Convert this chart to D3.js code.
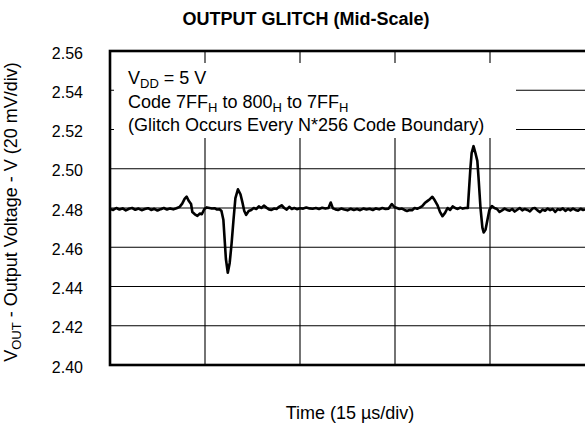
<!DOCTYPE html>
<html>
<head>
<meta charset="utf-8">
<title>output glitch</title>
<style>
body { margin: 0; background: #fff; }
text { font-family: "Liberation Sans", Arial, sans-serif; fill: #000; }
</style>
</head>
<body>
<script src="https://cdn.jsdelivr.net/npm/d3@7/dist/d3.min.js"></script>
<script>

// time in microseconds (15 us per division), output voltage in volts
var timeUs = [0, 0.5, 1, 1.5, 2, 2.5, 3, 3.5, 4, 4.5, 5, 5.5, 6, 6.5, 7, 7.5, 8, 8.5, 9, 9.5, 10, 10.5, 11,
  11.4, 11.8, 12.1, 12.4, 12.8, 13.0, 13.4, 13.8, 14.2, 14.5, 14.9, 15.3, 15.7, 16.1, 16.5, 16.9, 17.3, 17.6,
  17.9, 18.1, 18.3, 18.6, 18.9, 19.2, 19.5, 19.8, 20.2, 20.6, 20.9, 21.2, 21.5, 21.9, 22.3, 22.7, 23.1, 23.5,
  23.9, 24.3, 24.7, 25.1, 25.5, 25.9, 26.3, 26.7, 27.1, 27.5, 27.9, 28.3, 28.7, 29.1, 29.5, 30, 30.5, 31, 31.5,
  32, 32.5, 33, 33.5, 34, 34.5, 34.85, 35.2, 35.6, 36, 36.5, 37, 37.5, 38, 38.5, 39, 39.5, 40, 40.5, 41, 41.5,
  42, 42.5, 43, 43.5, 44, 44.5, 44.9, 45.3, 45.7, 46.1, 46.5, 46.9, 47.3, 47.7, 48.1, 48.5, 48.9, 49.3, 49.7,
  50.1, 50.5, 50.9, 51.3, 51.7, 52.1, 52.5, 52.9, 53.3, 53.7, 54.1, 54.5, 54.9, 55.3, 55.7, 56.1, 56.5, 56.7,
  56.9, 57.1, 57.4, 57.7, 58.0, 58.2, 58.5, 58.8, 59.0, 59.3, 59.6, 59.9, 60.3, 60.7, 61.1, 61.5, 61.9, 62.3,
  62.7, 63.1, 63.5, 63.9, 64.3, 64.7, 65.1, 65.5, 65.9, 66.3, 66.7, 67.1, 67.5, 67.9, 68.3, 68.7, 69.1, 69.5,
  69.9, 70.3, 70.7, 71.1, 71.5, 71.9, 72.3, 72.7, 73.1, 73.5, 73.9, 74.3, 74.7, 75];
var voltage = [2.4795, 2.4790, 2.4800, 2.4792, 2.4798, 2.4788, 2.4796, 2.4800, 2.4791, 2.4797, 2.4789, 2.4795,
  2.4799, 2.4790, 2.4796, 2.4787, 2.4794, 2.4800, 2.4792, 2.4798, 2.4793, 2.4799, 2.4806,
  2.4822, 2.4848, 2.4858, 2.4838, 2.4820, 2.4780, 2.4768, 2.4760, 2.4772, 2.4768, 2.4795, 2.4803, 2.4800,
  2.4797, 2.4799, 2.4792, 2.4794, 2.4785,
  2.4740, 2.4640, 2.4540, 2.4470, 2.4520, 2.4620, 2.4740, 2.4850, 2.4895, 2.4870, 2.4830, 2.4785, 2.4765,
  2.4785, 2.4790, 2.4800, 2.4795, 2.4808,
  2.4800, 2.4812, 2.4802, 2.4793, 2.4790, 2.4797, 2.4795, 2.4806, 2.4814, 2.4800, 2.4792, 2.4806, 2.4795,
  2.4800, 2.4794, 2.4799, 2.4797, 2.4802, 2.4798,
  2.4796, 2.4800, 2.4795, 2.4801, 2.4797, 2.4800, 2.4828, 2.4798, 2.4793, 2.4790, 2.4797, 2.4792, 2.4788,
  2.4796, 2.4790, 2.4795, 2.4789, 2.4797, 2.4792, 2.4796, 2.4790,
  2.4798, 2.4793, 2.4800, 2.4795, 2.4797, 2.4820, 2.4805, 2.4800, 2.4795, 2.4797, 2.4790, 2.4785, 2.4790,
  2.4789, 2.4800, 2.4796, 2.4802, 2.4810, 2.4825,
  2.4835, 2.4845, 2.4857, 2.4838, 2.4815, 2.4780, 2.4758, 2.4775, 2.4800, 2.4790, 2.4808, 2.4800, 2.4795,
  2.4802, 2.4797, 2.4800, 2.4800, 2.4900,
  2.5000, 2.5080, 2.5115, 2.5080, 2.5040, 2.4950, 2.4800, 2.4700, 2.4675, 2.4690, 2.4740, 2.4790, 2.4810,
  2.4800, 2.4795, 2.4780, 2.4788, 2.4797,
  2.4790, 2.4786, 2.4795, 2.4782, 2.4791, 2.4800, 2.4788, 2.4795, 2.4790, 2.4783, 2.4797, 2.4800, 2.4788,
  2.4779, 2.4792, 2.4786, 2.4797, 2.4789,
  2.4795, 2.4780, 2.4794, 2.4790, 2.4798, 2.4785, 2.4795, 2.4788, 2.4797, 2.4790, 2.4786, 2.4796, 2.4790, 2.4793];

var yTicks = [2.40, 2.42, 2.44, 2.46, 2.48, 2.50, 2.52, 2.54, 2.56];
var xGrid = [15, 30, 45, 60];
// [text, isSubscript]
var noteLines = [
  [["V", 0], ["DD", 1], [" = 5 V", 0]],
  [["Code 7FF", 0], ["H", 1], [" to 800", 0], ["H", 1], [" to 7FF", 0], ["H", 1]],
  [["(Glitch Occurs Every N*256 Code Boundary)", 0]]
];

var width = 585, height = 434;
var plotL = 110, plotT = 51, plotR = 585, plotB = 365;

var svg = d3.select("body").append("svg")
    .attr("width", width)
    .attr("height", height);

var x = d3.scaleLinear().domain([0, 75]).range([plotL, plotR]);
var y = d3.scaleLinear().domain([2.40, 2.56]).range([plotB, plotT]);

// grid
svg.append("g").selectAll("line")
  .data(yTicks)
  .enter().append("line")
    .attr("x1", plotL).attr("x2", plotR)
    .attr("y1", function (d) { return y(d); })
    .attr("y2", function (d) { return y(d); })
    .attr("stroke", "#000").attr("stroke-width", 1.1);

svg.append("g").selectAll("line")
  .data(xGrid)
  .enter().append("line")
    .attr("x1", function (d) { return x(d); })
    .attr("x2", function (d) { return x(d); })
    .attr("y1", plotT).attr("y2", plotB)
    .attr("stroke", "#000").attr("stroke-width", 1.1);

// tick labels
var yAxis = svg.append("g")
  .attr("transform", "translate(" + plotL + ",0)")
  .call(d3.axisLeft(y).tickValues(yTicks).tickSize(0).tickPadding(27).tickFormat(d3.format(".2f")));
yAxis.select(".domain").remove();
yAxis.selectAll("text")
  .attr("font-size", 16)
  .attr("font-family", "Liberation Sans, Arial, sans-serif")
  .attr("dy", "0.45em");

// trace
var points = timeUs.map(function (t, i) { return [t, voltage[i]]; });
svg.append("clipPath").attr("id", "clip")
  .append("rect").attr("x", plotL).attr("y", plotT).attr("width", plotR - plotL + 10).attr("height", plotB - plotT);

svg.append("path")
  .datum(points)
  .attr("clip-path", "url(#clip)")
  .attr("fill", "none")
  .attr("stroke", "#000")
  .attr("stroke-width", 2.6)
  .attr("stroke-linejoin", "round")
  .attr("d", d3.line().x(function (d) { return x(d[0]); }).y(function (d) { return y(d[1]); }));

// frame
svg.append("rect")
  .attr("x", plotL).attr("y", plotT)
  .attr("width", plotR - plotL + 20).attr("height", plotB - plotT)
  .attr("fill", "none").attr("stroke", "#000").attr("stroke-width", 2.6);

// note box
svg.append("rect")
  .attr("x", plotL + 4).attr("y", 63)
  .attr("width", 402).attr("height", 75)
  .attr("fill", "#fff");

svg.append("g").selectAll("text")
  .data(noteLines)
  .enter().append("text")
    .attr("x", 128)
    .attr("y", function (d, i) { return 84 + i * 23.5; })
    .attr("font-size", 18)
    .each(function (parts) {
      var t = d3.select(this);
      var prevSub = 0;
      parts.forEach(function (p) {
        t.append("tspan")
          .attr("font-size", p[1] ? 13 : 18)
          .attr("dy", (p[1] ? 4 : 0) - (prevSub ? 4 : 0))
          .text(p[0]);
        prevSub = p[1];
      });
    });

// title
svg.append("text")
  .attr("x", 306).attr("y", 25)
  .attr("text-anchor", "middle")
  .attr("font-size", 18)
  .attr("font-weight", "bold")
  .text("OUTPUT GLITCH (Mid-Scale)");

// x label
svg.append("text")
  .attr("x", 350).attr("y", 419)
  .attr("text-anchor", "middle")
  .attr("font-size", 18)
  .text("Time (15 \u00b5s/div)");

// y label
var yl = svg.append("text")
  .attr("transform", "translate(17,212) rotate(-90)")
  .attr("text-anchor", "middle")
  .attr("font-size", 18);
yl.append("tspan").text("V");
yl.append("tspan").attr("font-size", 13).attr("dy", 4).text("OUT");
yl.append("tspan").attr("dy", -4).text(" - Output Voltage - V (20 mV/div)");

</script>
</body>
</html>
